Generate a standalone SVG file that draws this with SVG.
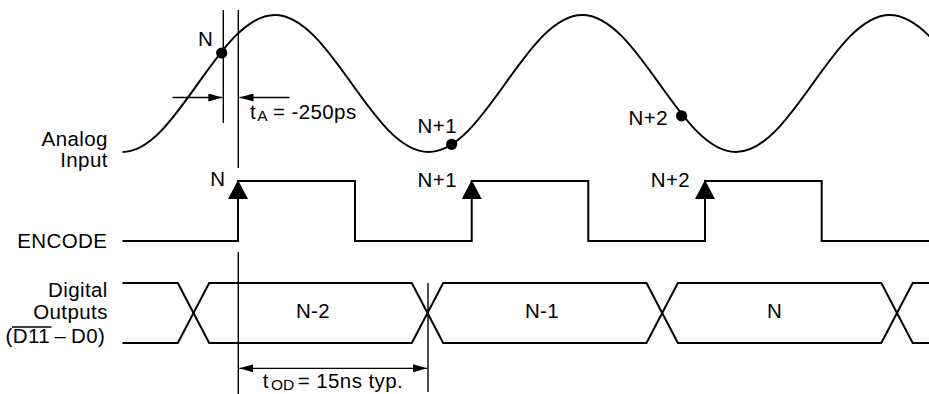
<svg xmlns="http://www.w3.org/2000/svg" width="929" height="394" viewBox="0 0 929 394">
<defs>
<style>
text{font-family:"Liberation Sans",Arial,Helvetica,sans-serif;font-size:20.5px;letter-spacing:0.4px;fill:#000}
.sig{fill:none;stroke:#000;stroke-width:2;stroke-linejoin:miter}
.ref{fill:none;stroke:#000;stroke-width:1.4}
.dim{fill:none;stroke:#000;stroke-width:1.3}
.sub{font-size:15.5px;letter-spacing:0}
.end{text-anchor:end}
.mid{text-anchor:middle}
</style>
<marker id="ah" markerUnits="userSpaceOnUse" markerWidth="15" markerHeight="8" refX="14" refY="4" orient="auto-start-reverse" viewBox="0 0 15 8">
<path d="M0,0 L14,4 L0,8 Z" fill="#000"/>
</marker>
</defs>
<rect width="929" height="394" fill="#fff"/>

<g id="analog-input">
<text class="end" x="107.8" y="146">Analog</text>
<text class="end" x="107.8" y="166.5">Input</text>
<path class="sig" d="M122.5,152 C177,152 218.75,15 274.75,15 S372.5,152 428.5,152 S526.25,15 582.25,15 S680,152 736,152 S833.75,15 889.75,15 S987.5,152 1043.5,152"/>
<circle cx="221.7" cy="53" r="5.6" fill="#000"/>
<circle cx="451.7" cy="144.3" r="5.6" fill="#000"/>
<circle cx="681.6" cy="115.8" r="5.6" fill="#000"/>
<text class="mid" x="205.5" y="46">N</text>
<text class="mid" x="437.3" y="133.3">N+1</text>
<text class="mid" x="648.3" y="125">N+2</text>
</g>

<g id="encode">
<text class="end" x="107.3" y="247.5">ENCODE</text>
<path class="sig" d="M122.5,241 H238 V181 H355 V241 H471.7 V181 H588.3 V241 H705 V181 H821.7 V241 H930"/>
<polygon points="238,180 228,199 248,199" fill="#000"/>
<polygon points="471.7,180 461.7,199 481.7,199" fill="#000"/>
<polygon points="705,180 695,199 715,199" fill="#000"/>
<text class="mid" x="217.8" y="186.3">N</text>
<text class="mid" x="437.3" y="186.7">N+1</text>
<text class="mid" x="670.5" y="186.7">N+2</text>
</g>

<g id="digital-outputs">
<text class="end" x="107.8" y="297">Digital</text>
<text class="end" x="107.8" y="319">Outputs</text>
<text y="343.3"><tspan x="5.5">(D11</tspan><tspan x="54.5">–</tspan><tspan x="71">D0)</tspan></text>
<line x1="12" y1="327" x2="51.5" y2="327" stroke="#000" stroke-width="1.5"/>
<path class="sig" d="M122.5,283 H177.8 L209.2,343 H411.8 L443.2,283 H646.5 L677.9,343 H881.3 L912.7,283 H930"/>
<path class="sig" d="M122.5,343 H177.8 L209.2,283 H411.8 L443.2,343 H646.5 L677.9,283 H881.3 L912.7,343 H930"/>
<text class="mid" x="313" y="318.3">N-2</text>
<text class="mid" x="542" y="318.3">N-1</text>
<text class="mid" x="774.7" y="318.3">N</text>
</g>

<g id="connectors">
<line class="ref" x1="223.3" y1="10" x2="223.3" y2="123"/>
<line class="ref" x1="238.3" y1="10" x2="238.3" y2="168"/>
<line class="ref" x1="238.3" y1="252" x2="238.3" y2="394"/>
<line class="ref" x1="428" y1="283" x2="428" y2="392"/>
<line class="dim" x1="172.5" y1="97.5" x2="222.3" y2="97.5" marker-end="url(#ah)"/>
<line class="dim" x1="289.5" y1="97.5" x2="239.5" y2="97.5" marker-end="url(#ah)"/>
<line class="dim" x1="239.3" y1="368.3" x2="427" y2="368.3" marker-start="url(#ah)" marker-end="url(#ah)"/>
</g>

<g id="timing-labels">
<text y="119.3"><tspan x="250">t</tspan><tspan class="sub" x="257.3" y="121">A</tspan><tspan x="273" y="119.3">= -250ps</tspan></text>
<text y="388.3"><tspan x="262.8">t</tspan><tspan class="sub" x="271" y="390.3">OD</tspan><tspan x="297.8" y="388.3">= 15ns typ.</tspan></text>
</g>
</svg>
